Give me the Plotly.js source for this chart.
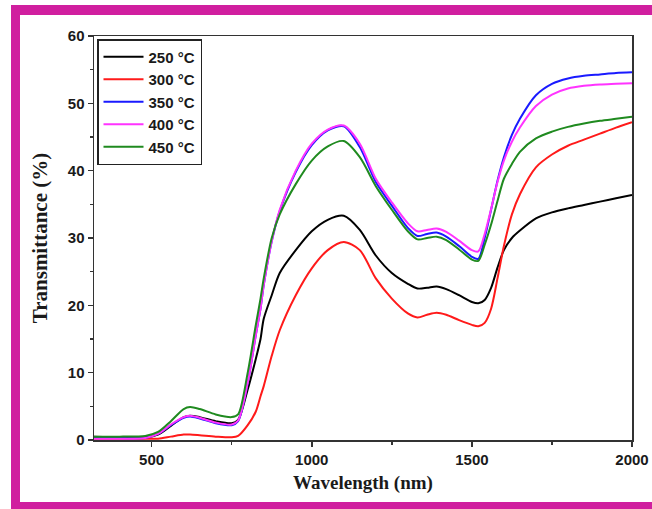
<!DOCTYPE html>
<html>
<head>
<meta charset="utf-8">
<script src="https://cdn.plot.ly/plotly-3.0.1.min.js"></script>
<style>
  html, body { margin: 0; padding: 0; background: #fff; }
  #chart { width: 652px; height: 509px; }
</style>
</head>
<body>
<div id="chart"></div>
<script>
// Wavelength (nm)
const wavelength = [320, 400, 480, 520, 560, 600, 620, 650, 700, 750, 770, 800, 825, 840, 850, 875, 900, 950, 1000, 1050, 1100, 1150, 1200, 1250, 1300, 1330, 1360, 1390, 1420, 1460, 1500, 1520, 1540, 1560, 1580, 1600, 1625, 1650, 1700, 1750, 1800, 1850, 1900, 1950, 2000];

// Transmittance (%) per annealing temperature
const t250 = [0.5, 0.4, 0.4, 0.8, 2.1, 3.4, 3.6, 3.4, 2.8, 2.5, 3.0, 7.5, 12.0, 15.0, 18.0, 21.5, 24.8, 28.2, 31.0, 32.7, 33.3, 31.2, 27.4, 24.8, 23.2, 22.5, 22.6, 22.8, 22.4, 21.5, 20.5, 20.3, 20.8, 22.6, 25.6, 28.2, 30.0, 31.1, 32.9, 33.8, 34.4, 34.9, 35.4, 35.9, 36.4];
const t300 = [0.2, 0.2, 0.2, 0.2, 0.5, 0.8, 0.8, 0.7, 0.5, 0.4, 0.6, 2.2, 4.2, 6.5, 8.0, 12.5, 16.3, 21.5, 25.5, 28.2, 29.4, 28.2, 24.0, 21.0, 18.8, 18.2, 18.6, 18.9, 18.6, 17.8, 17.1, 16.9, 17.4, 19.5, 24.0, 28.8, 33.5, 36.5, 40.5, 42.4, 43.7, 44.6, 45.5, 46.4, 47.2];
const t350 = [0.3, 0.3, 0.3, 0.9, 2.2, 3.3, 3.5, 3.2, 2.5, 2.2, 2.8, 8.5, 15.5, 19.5, 23.0, 29.5, 34.0, 39.8, 43.8, 46.0, 46.6, 43.5, 38.3, 34.8, 31.5, 30.3, 30.6, 30.8, 30.2, 28.8, 27.2, 26.9, 30.0, 34.2, 38.5, 42.0, 45.3, 47.7, 51.2, 52.9, 53.7, 54.1, 54.3, 54.5, 54.6];
const t400 = [0.2, 0.2, 0.3, 0.9, 2.3, 3.4, 3.6, 3.3, 2.6, 2.3, 2.9, 8.5, 15.5, 19.5, 23.0, 29.5, 34.2, 40.0, 44.0, 46.1, 46.7, 44.0, 38.8, 35.3, 32.2, 31.0, 31.2, 31.4, 30.9, 29.6, 28.2, 28.0, 30.6, 34.3, 38.3, 41.5, 44.3, 46.4, 49.6, 51.3, 52.2, 52.6, 52.8, 52.9, 53.0];
const t450 = [0.5, 0.5, 0.6, 1.2, 2.8, 4.6, 4.9, 4.6, 3.8, 3.4, 3.8, 10.0, 17.0, 21.0, 24.0, 30.0, 33.5, 38.0, 41.5, 43.6, 44.4, 42.0, 37.7, 34.2, 31.0, 29.8, 30.0, 30.2, 29.7, 28.3, 26.8, 26.6, 29.0, 32.0, 35.5, 38.8, 41.0, 42.8, 44.8, 45.8, 46.5, 47.0, 47.4, 47.7, 48.0];

const seriesNames = ["250 °C", "300 °C", "350 °C", "400 °C", "450 °C"];
const seriesValues = [t250, t300, t350, t400, t450];
const seriesColors = ["#000000", "#ff1a1a", "#1a1aff", "#ff33ff", "#1f8a1f"];

const xTickVals = [500, 1000, 1500, 2000];
const yTickVals = [0, 10, 20, 30, 40, 50, 60];

const traces = seriesNames.map((name, i) => ({
  x: wavelength,
  y: seriesValues[i],
  name: name,
  type: "scatter",
  mode: "lines",
  line: { color: seriesColors[i], width: 2, shape: "spline", smoothing: 0.8 }
}));

// plot area geometry in pixels
const W = 652, H = 509;
const M = { l: 94, r: 20, t: 36, b: 69 };
const pw = W - M.l - M.r, ph = H - M.t - M.b;
const px = v => (v - M.l) / pw;
const py = v => (H - M.b - v) / ph;
const frameColor = "#d01f9f";

const shapes = [
  { type: "rect", xref: "paper", yref: "paper", x0: px(11), x1: px(20), y0: py(512), y1: py(5), fillcolor: frameColor, line: { width: 0 }, layer: "below" },
  { type: "rect", xref: "paper", yref: "paper", x0: px(11), x1: px(670), y0: py(15), y1: py(5), fillcolor: frameColor, line: { width: 0 }, layer: "below" },
  { type: "rect", xref: "paper", yref: "paper", x0: px(11), x1: px(670), y0: py(512), y1: py(502), fillcolor: frameColor, line: { width: 0 }, layer: "below" }
];

const tickFont = { family: "Liberation Sans, Arial, sans-serif", size: 15, color: "#1a1a1a", weight: "bold" };
const xTitleFont = { family: "Liberation Serif, Times New Roman, serif", size: 19, color: "#1a1a1a", weight: "bold" };
const yTitleFont = { family: "Liberation Serif, Times New Roman, serif", size: 21, color: "#1a1a1a", weight: "bold" };

const layout = {
  width: W, height: H,
  margin: M,
  paper_bgcolor: "#ffffff",
  plot_bgcolor: "#ffffff",
  showlegend: true,
  legend: {
    x: px(97), y: py(39), xanchor: "left", yanchor: "top",
    bgcolor: "#ffffff", bordercolor: "#222", borderwidth: 1.5,
    font: { family: "Liberation Sans, Arial, sans-serif", size: 15, color: "#1a1a1a", weight: "bold" },
    tracegroupgap: 0,
    itemwidth: 40
  },
  xaxis: {
    range: [320, 2000],
    tickvals: xTickVals,
    ticks: "outside", ticklen: 5, tickwidth: 1.5, tickcolor: "#333",
    minor: { dtick: 250, tick0: 250, ticks: "outside", ticklen: 3, tickwidth: 1.5, tickcolor: "#333", showgrid: false },
    showline: true, linecolor: "#333", linewidth: 1.5, mirror: true,
    showgrid: false, zeroline: false,
    tickfont: tickFont,
    title: { text: "Wavelength (nm)", font: xTitleFont, standoff: 9 }
  },
  yaxis: {
    range: [0, 60],
    tickvals: yTickVals,
    ticks: "outside", ticklen: 5, tickwidth: 1.5, tickcolor: "#333",
    minor: { dtick: 5, tick0: 0, ticks: "outside", ticklen: 3, tickwidth: 1.5, tickcolor: "#333", showgrid: false },
    showline: true, linecolor: "#333", linewidth: 1.5, mirror: true,
    showgrid: false, zeroline: false,
    tickfont: tickFont,
    title: { text: "Transmittance (%)", font: yTitleFont, standoff: 14 }
  },
  shapes: shapes
};

Plotly.newPlot("chart", traces, layout, { displayModeBar: false, staticPlot: true });
</script>
</body>
</html>
